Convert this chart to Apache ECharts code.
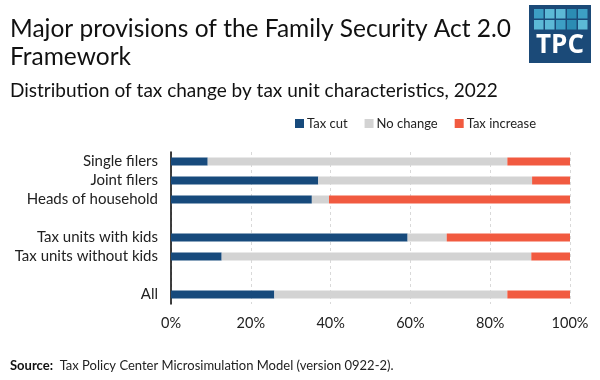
<!DOCTYPE html>
<html>
<head>
<meta charset="utf-8">
<script src="https://cdn.jsdelivr.net/npm/echarts@6/dist/echarts.min.js"></script>
<style>html,body{margin:0;padding:0;background:#fff}#c{width:600px;height:380px}</style>
</head>
<body>
<div id="c"></div>
<script>
const categories = ['Single filers', 'Joint filers', 'Heads of household', '', 'Tax units with kids', 'Tax units without kids', ' ', 'All'];
const taxCut = [9.2, 36.9, 35.3, '-', 59.3, 12.7, '-', 25.9];
const noChange = [75.1, 53.6, 4.3, '-', 9.8, 77.6, '-', 58.4];
const taxIncrease = [15.7, 9.5, 60.4, '-', 30.9, 9.7, '-', 15.7];
const xTicks = [0, 20, 40, 60, 80, 100];

const FONT = 'Lato, "Open Sans", sans-serif';
const chart = echarts.init(document.getElementById('c'), null, {renderer: 'canvas'});
const logoSq = ['#3d9fc4', '#5cb9d6', '#5cb9d6', '#2b8cb3', '#3d9fc4',
                '#5cb9d6', '#5cb9d6', '#3d9fc4', '#2b8cb3', '#5cb9d6'];
const logoEls = [{type: 'rect', shape: {x: 529, y: 5, width: 62, height: 58}, style: {fill: '#1b4a78'}}];
for (let r = 0; r < 2; r++) for (let c = 0; c < 5; c++) {
  logoEls.push({type: 'rect', shape: {x: 534 + c * 11, y: 9 + r * 11, width: 9.5, height: 9.5}, style: {fill: logoSq[r * 5 + c]}});
}
logoEls.push({type: 'text', x: 560, y: 46, style: {text: 'TPC', fill: '#fff', font: 'bold 26px "Open Sans", sans-serif', align: 'center', verticalAlign: 'middle'}});

const bar = (name, data, color) => ({
  name, type: 'bar', stack: 'a', data, barWidth: 8,
  itemStyle: {color}, emphasis: {disabled: true}
});

chart.setOption({
  animation: false,
  textStyle: {fontFamily: FONT},
  grid: {left: 171, right: 30, top: 152, bottom: 76},
  legend: {
    top: 112, left: 290, itemWidth: 9, itemHeight: 9, itemGap: 17,
    icon: 'rect', textStyle: {fontSize: 13, color: '#222', fontFamily: FONT, padding: [0, 0, 0, -2]},
    data: ['Tax cut', 'No change', 'Tax increase']
  },
  xAxis: {
    type: 'value', min: 0, max: 100, interval: 20,
    axisLine: {show: false}, axisTick: {show: false},
    axisLabel: {formatter: v => xTicks.includes(v) ? v + '%' : '', fontSize: 14.5, color: '#222', margin: 12, fontFamily: FONT},
    splitLine: {show: true, lineStyle: {color: '#d9d9d9', type: [3, 3], width: 1}}
  },
  yAxis: {
    type: 'category', data: categories, inverse: true,
    axisLine: {show: true, lineStyle: {color: '#000', width: 1.5}},
    axisTick: {show: false},
    axisLabel: {interval: 0, fontSize: 15, color: '#222', margin: 13, fontFamily: FONT}
  },
  series: [
    bar('Tax cut', taxCut, '#174a7c'),
    bar('No change', noChange, '#d3d3d3'),
    bar('Tax increase', taxIncrease, '#f15a40')
  ],
  graphic: [
    {type: 'text', x: 10, y: 29.5, style: {text: 'Major provisions of the Family Security Act 2.0', font: '24.5px ' + FONT, fill: '#111', verticalAlign: 'middle'}},
    {type: 'text', x: 10, y: 57.5, style: {text: 'Framework', font: '24.5px ' + FONT, fill: '#111', verticalAlign: 'middle'}},
    {type: 'text', x: 10, y: 91, style: {text: 'Distribution of tax change by tax unit characteristics, 2022', font: '19px ' + FONT, fill: '#111', verticalAlign: 'middle'}},
    {type: 'text', left: 10, top: 359, style: {text: '{b|Source:}  Tax Policy Center Microsimulation Model (version 0922-2).', font: '13px ' + FONT, fill: '#222',
      rich: {b: {fontWeight: 'bold', fontSize: 13, fontFamily: FONT, fill: '#111'}}}},
    {type: 'group', children: logoEls}
  ]
});
</script>
</body>
</html>
